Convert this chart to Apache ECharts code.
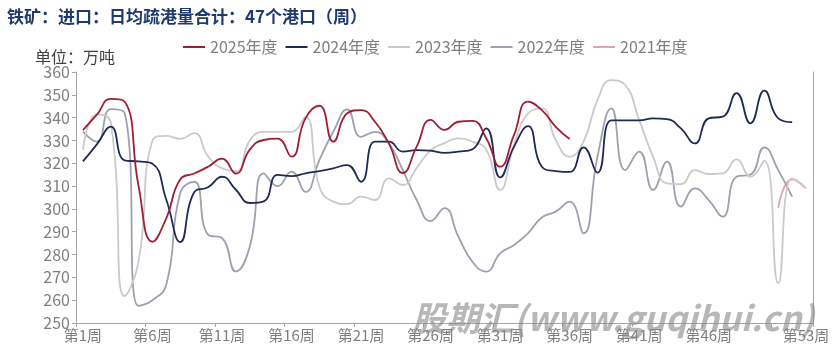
<!DOCTYPE html>
<html>
<head>
<meta charset="utf-8">
<script src="https://cdn.jsdelivr.net/npm/echarts@6/dist/echarts.min.js"></script>
<style>
html,body{margin:0;padding:0;background:#fff;}
#c{width:833px;height:348px;}
</style>
</head>
<body>
<div id="c"></div>
<script>
const weeks = ['第1周','第2周','第3周','第4周','第5周','第6周','第7周','第8周','第9周','第10周',
  '第11周','第12周','第13周','第14周','第15周','第16周','第17周','第18周','第19周','第20周',
  '第21周','第22周','第23周','第24周','第25周','第26周','第27周','第28周','第29周','第30周',
  '第31周','第32周','第33周','第34周','第35周','第36周','第37周','第38周','第39周','第40周',
  '第41周','第42周','第43周','第44周','第45周','第46周','第47周','第48周','第49周','第50周',
  '第51周','第52周','第53周'];

const y2025 = [334.5,341.3,348.2,347,310,285.6,296,313,315.5,318.5,
  322,315.5,326,330.2,330.8,322.9,339.7,345.2,329.5,341.9,
  343.3,338.2,328.7,315.7,327.3,339,334.6,338.2,338.6,331,
  318.5,332.4,347,343.3,336,330.6];

const y2024 = [320.8,328.3,336.1,321.3,320.8,319.8,303.9,285.5,307.3,309.5,
  314.1,308.4,302.6,303.3,314.9,314.4,315.6,316.6,317.8,319.2,
  311.9,329.5,329.5,325.1,325.8,325.5,324.6,325.1,326.1,335.3,
  313.8,327.3,336.3,318.5,316.6,316.2,327,315.9,338.8,338.8,
  338.8,339.7,339.3,335.3,328.7,339.7,340.4,350.7,337.5,351.8,
  339.7,338];

const y2023 = [325.9,341.4,338,261.8,277,330,332,330.7,333.2,323,
  317.8,316.5,330,333.8,333.8,333.8,340.2,309.7,303.2,302.1,
  305.4,303.9,313.4,310.5,318,325.6,328.8,330.9,329.5,326,
  308.3,328,341.8,344.1,330.2,322.9,329.5,347.7,356.4,354.3,
  339,322.9,311.2,310.9,317,315.3,315.6,321.7,314.1,321.1,
  267.4,313.4,309];

const y2022 = [333.9,329.5,343.7,342,257.5,260,267,307,311.9,288.7,
  287.2,272.6,283.5,315.6,310,316.3,307.5,321.4,333.8,343.6,
  331.6,333.8,328.7,317,303.9,294.7,300.3,287.8,276.9,272.5,
  280.5,284.2,289.3,296.2,298.8,303.2,289.3,322.9,344.1,317,
  325.1,308.3,320.7,301,309,303.9,296.6,314.1,315,327,
  317,305.4];

const y2021 = [['第51周',300.5],['第52周',313],['第53周',309]];

const seriesNames = ['2025年度','2024年度','2023年度','2022年度','2021年度'];
const yTicks = {min:250, max:360, step:10};

const colors = {
  '2025年度':'#9e1f35',
  '2024年度':'#1f2a55',
  '2023年度':'#cacaca',
  '2022年度':'#9ea1ad',
  '2021年度':'#e4a2b8'
};
const dataMap = {
  '2025年度':y2025,'2024年度':y2024,'2023年度':y2023,'2022年度':y2022,'2021年度':y2021
};

const FONT = '"Noto Sans CJK SC", "Noto Sans", sans-serif';
const chart = echarts.init(document.getElementById('c'));

const series = seriesNames.slice().reverse().map(n => ({
  name: n,
  type: 'line',
  data: dataMap[n],
  smooth: 0.5,
  symbol: 'none',
  lineStyle: {width: 1.8, color: colors[n]},
  itemStyle: {color: colors[n]}
}));

const option = {
  animation: false,
  textStyle: {fontFamily: FONT},
  title: {
    text: '铁矿：进口：日均疏港量合计：47个港口（周）',
    left: 7, top: 8, padding: 0,
    textStyle: {fontSize: 17, fontWeight: 'bold', color: '#1f3a6e', fontFamily: FONT}
  },
  legend: {
    data: seriesNames,
    left: 178, top: 34,
    icon: 'rect', itemWidth: 22, itemHeight: 2, itemGap: 8,
    textStyle: {fontSize: 16, color: '#7f7f7f', fontFamily: FONT}
  },
  graphic: [
    {type: 'text', left: 35, top: 49, style: {text: '单位：万吨', fontSize: 16, fill: '#404040', fontFamily: FONT}},
    {type: 'text', left: 412, top: 301, z: 100, style: {
      text: '股期汇(www.guqihui.cn)', fontSize: 34, fontWeight: 'bold', fontStyle: 'italic',
      fill: 'rgba(135,135,135,0.6)', fontFamily: FONT}}
  ],
  grid: {left: 76, right: 20, top: 72, bottom: 25},
  xAxis: {
    type: 'category', data: weeks, boundaryGap: true,
    axisLine: {lineStyle: {color: '#a6a6a6', width: 1}},
    axisTick: {show: true, interval: 4, length: 4, lineStyle: {color: '#a6a6a6'}},
    axisLabel: {
      interval: (i) => (i % 5 === 0 && i <= 45) || i === 52,
      fontSize: 15, color: '#7f7f7f', margin: 5, fontFamily: FONT
    },
    splitLine: {show: false}
  },
  yAxis: [{
    type: 'value', min: yTicks.min, max: yTicks.max, interval: yTicks.step,
    axisLine: {show: true, lineStyle: {color: '#a6a6a6'}},
    axisTick: {show: true, length: 4, lineStyle: {color: '#a6a6a6'}},
    axisLabel: {fontSize: 16, color: '#7f7f7f', margin: 6, fontFamily: FONT},
    splitLine: {show: false}
  }, {
    type: 'value', position: 'right', min: yTicks.min, max: yTicks.max, interval: yTicks.step,
    axisLine: {show: true, lineStyle: {color: '#a6a6a6'}},
    axisTick: {show: false}, axisLabel: {show: false}, splitLine: {show: false}
  }],
  series: series
};
chart.setOption(option);
</script>
</body>
</html>
